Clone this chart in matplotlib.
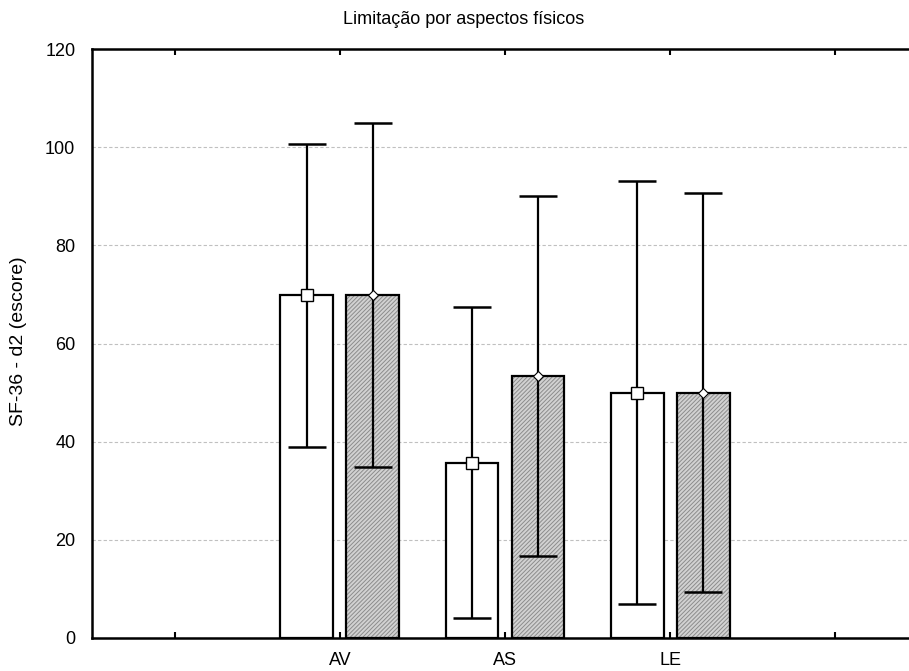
import numpy as np
import matplotlib
matplotlib.use("Agg")
import matplotlib.pyplot as plt

plt.rcParams['font.family'] = ['Liberation Sans', 'DejaVu Sans']
plt.rcParams['hatch.linewidth'] = 0.7

# categories (positions 1 and 5 are empty slots on the axis)
categories = ['', 'AV', 'AS', 'LE', '']
groups = ['AV', 'AS', 'LE']

# group 1 (white bars): means and +/- error
mean_white = [69.8, 35.7, 50.0]
err_white = [30.8, 31.7, 43.1]

# group 2 (hatched gray bars): means and +/- error
mean_gray = [69.9, 53.4, 50.0]
err_gray = [35.0, 36.7, 40.7]

fig = plt.figure(figsize=(9.09, 6.71), dpi=100)
# axes extend a bit past the right edge of the image, like the original
ax = fig.add_axes([92 / 909, 1 - 638 / 671, (918 - 92) / 909, (638 - 49) / 671])

pos = np.array([2, 3, 4])
w = 0.32
off = 0.2

# white bars
ax.bar(pos - off, mean_white, width=w, color='white', edgecolor='black',
       linewidth=1.6, zorder=2)

# gray hatched bars: fill + hatch first, then black outline
ax.bar(pos + off, mean_gray, width=w, color='#d2d2d2', edgecolor='#8c8c8c',
       hatch='////////', linewidth=0, zorder=2)
ax.bar(pos + off, mean_gray, width=w, fill=False, edgecolor='black',
       linewidth=1.6, zorder=2.1)

# error bars
ax.errorbar(pos - off, mean_white, yerr=err_white, fmt='none', ecolor='black',
            elinewidth=1.6, capsize=13.7, capthick=1.8, zorder=3)
ax.errorbar(pos + off, mean_gray, yerr=err_gray, fmt='none', ecolor='black',
            elinewidth=1.6, capsize=13.7, capthick=1.8, zorder=3)

# mean markers
ax.plot(pos - off, mean_white, linestyle='none', marker='s', markersize=8,
        markerfacecolor='white', markeredgecolor='black', markeredgewidth=1.0,
        zorder=4)
ax.plot(pos + off, mean_gray, linestyle='none', marker='D', markersize=5,
        markerfacecolor='white', markeredgecolor='black', markeredgewidth=0.8,
        zorder=4)

ax.set_xlim(0.5, 5.5)
ax.set_ylim(0, 120)
ax.set_xticks([1, 2, 3, 4, 5])
ax.set_xticklabels(categories)
ax.set_yticks([0, 20, 40, 60, 80, 100, 120])
ax.tick_params(axis='x', direction='in', length=4, width=1.5, top=True,
               pad=10, labelsize=13)
ax.tick_params(axis='y', direction='in', length=0, pad=12, labelsize=13)

ax.yaxis.grid(True, linestyle=(0, (3, 2)), color='#c0c0c0', linewidth=0.8)
ax.set_axisbelow(True)

for s in ['left', 'bottom', 'top']:
    ax.spines[s].set_linewidth(1.8)
ax.spines['right'].set_visible(False)

fig.text(464 / 909, 1 - 20 / 671, 'Limitação por aspectos físicos',
         ha='center', va='center', fontsize=13)
fig.text(19 / 909, 1 - 341 / 671, 'SF-36 - d2 (escore)', rotation=90,
         ha='center', va='center', fontsize=14)

fig.savefig('out.png', dpi=100)
